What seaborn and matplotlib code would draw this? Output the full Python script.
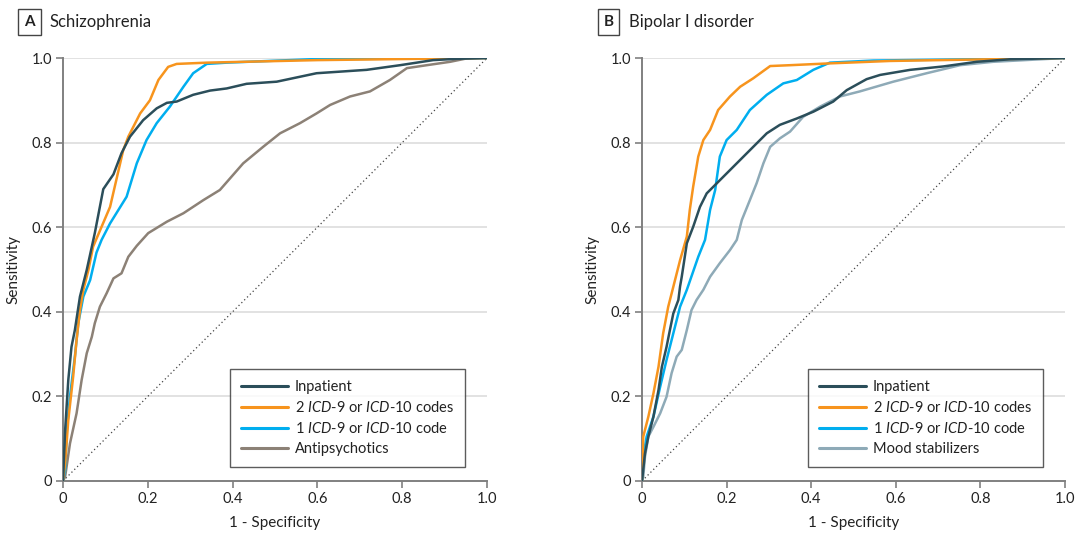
import matplotlib
matplotlib.use("Agg")
import matplotlib.pyplot as plt
from matplotlib.lines import Line2D
import seaborn as sns
import pandas as pd

# ---- Schizophrenia ROC curves (1 - specificity, sensitivity) ----
scz_inpatient_x = [0, 0.005, 0.0125, 0.02, 0.028, 0.04, 0.056, 0.075, 0.095, 0.119, 0.138, 0.158,
                   0.189, 0.221, 0.245, 0.268, 0.307, 0.347, 0.386, 0.433, 0.504, 0.598, 0.716,
                   0.795, 0.873, 0.928, 1.0]
scz_inpatient_y = [0, 0.12, 0.239, 0.317, 0.357, 0.436, 0.499, 0.586, 0.690, 0.725, 0.775, 0.814,
                   0.853, 0.881, 0.894, 0.897, 0.913, 0.923, 0.928, 0.939, 0.944, 0.964, 0.972,
                   0.983, 0.995, 0.998, 1.0]
scz_two_codes_x = [0, 0.005, 0.0125, 0.024, 0.032, 0.040, 0.048, 0.060, 0.071, 0.111, 0.142, 0.154,
                   0.182, 0.205, 0.225, 0.248, 0.268, 0.339, 0.6, 1.0]
scz_two_codes_y = [0, 0.042, 0.144, 0.247, 0.333, 0.404, 0.452, 0.499, 0.554, 0.648, 0.782, 0.814,
                   0.869, 0.9, 0.948, 0.979, 0.986, 0.989, 0.995, 1.0]
scz_one_code_x = [0, 0.005, 0.009, 0.0165, 0.028, 0.036, 0.048, 0.064, 0.079, 0.091, 0.111, 0.150,
                  0.174, 0.197, 0.221, 0.252, 0.284, 0.307, 0.339, 0.386, 0.583, 1.0]
scz_one_code_y = [0, 0.026, 0.12, 0.2, 0.294, 0.373, 0.436, 0.475, 0.54, 0.57, 0.609, 0.672,
                  0.751, 0.806, 0.846, 0.885, 0.932, 0.964, 0.986, 0.989, 0.997, 1.0]
scz_drug_x = [0, 0.005, 0.0165, 0.032, 0.044, 0.056, 0.068, 0.075, 0.087, 0.103, 0.119, 0.138,
              0.154, 0.174, 0.201, 0.245, 0.284, 0.331, 0.370, 0.425, 0.472, 0.512, 0.559, 0.598,
              0.630, 0.677, 0.724, 0.771, 0.811, 0.858, 0.913, 0.952, 1.0]
scz_drug_y = [0, 0.01, 0.089, 0.16, 0.239, 0.302, 0.341, 0.373, 0.412, 0.444, 0.479, 0.491,
              0.530, 0.556, 0.586, 0.613, 0.633, 0.664, 0.688, 0.751, 0.790, 0.822, 0.846, 0.869,
              0.889, 0.909, 0.921, 0.948, 0.976, 0.983, 0.991, 0.999, 1.0]

# ---- Bipolar I disorder ROC curves ----
bp_inpatient_x = [0, 0.007, 0.015, 0.027, 0.039, 0.047, 0.058, 0.066, 0.074, 0.086, 0.090, 0.094,
                  0.106, 0.121, 0.137, 0.153, 0.177, 0.200, 0.232, 0.263, 0.295, 0.326, 0.366,
                  0.405, 0.452, 0.484, 0.531, 0.563, 0.634, 0.712, 0.791, 0.870, 1.0]
bp_inpatient_y = [0, 0.065, 0.105, 0.152, 0.215, 0.270, 0.317, 0.357, 0.396, 0.428, 0.46, 0.483,
                  0.562, 0.601, 0.648, 0.680, 0.704, 0.727, 0.759, 0.790, 0.822, 0.842, 0.857,
                  0.873, 0.897, 0.924, 0.950, 0.960, 0.972, 0.980, 0.991, 0.997, 1.0]
bp_two_codes_x = [0, 0.003, 0.015, 0.027, 0.039, 0.050, 0.062, 0.074, 0.090, 0.106, 0.113, 0.121,
                  0.133, 0.145, 0.161, 0.180, 0.208, 0.232, 0.263, 0.303, 0.350, 0.437, 0.586, 1.0]
bp_two_codes_y = [0, 0.105, 0.152, 0.207, 0.270, 0.349, 0.412, 0.459, 0.522, 0.578, 0.641, 0.696,
                  0.767, 0.806, 0.830, 0.877, 0.909, 0.932, 0.952, 0.981, 0.983, 0.987, 0.993, 1.0]
bp_one_code_x = [0, 0.003, 0.011, 0.027, 0.043, 0.058, 0.074, 0.090, 0.106, 0.133, 0.149, 0.161,
                 0.173, 0.184, 0.200, 0.224, 0.255, 0.295, 0.334, 0.366, 0.405, 0.444, 0.547, 1.0]
bp_one_code_y = [0, 0.057, 0.105, 0.152, 0.223, 0.286, 0.349, 0.412, 0.452, 0.530, 0.570, 0.641,
                 0.688, 0.767, 0.806, 0.830, 0.877, 0.913, 0.940, 0.948, 0.972, 0.989, 0.994, 1.0]
bp_drug_x = [0, 0.003, 0.007, 0.015, 0.027, 0.043, 0.058, 0.070, 0.082, 0.094, 0.106, 0.117,
             0.129, 0.145, 0.161, 0.184, 0.208, 0.224, 0.236, 0.255, 0.271, 0.287, 0.303, 0.326,
             0.350, 0.381, 0.421, 0.468, 0.515, 0.594, 0.673, 0.752, 0.830, 1.0]
bp_drug_y = [0, 0.01, 0.057, 0.105, 0.128, 0.160, 0.199, 0.255, 0.294, 0.310, 0.357, 0.404,
             0.428, 0.452, 0.483, 0.515, 0.546, 0.570, 0.617, 0.664, 0.704, 0.751, 0.790, 0.810,
             0.826, 0.861, 0.885, 0.909, 0.921, 0.944, 0.964, 0.983, 0.991, 1.0]

tick_values = [0, 0.2, 0.4, 0.6, 0.8, 1.0]
tick_labels = ["0", "0.2", "0.4", "0.6", "0.8", "1.0"]

sns.set_theme(style="white")
plt.rcParams["font.family"] = ["Lato", "DejaVu Sans"]
plt.rcParams["mathtext.fontset"] = "custom"
plt.rcParams["mathtext.it"] = "Lato:italic"
plt.rcParams["mathtext.rm"] = "Lato"

TEXT = "#222222"
AXIS = "#808080"
GRID = "#dddddd"

series_names = ["Inpatient", "2 codes", "1 code", "Drug"]
labels_common = ["Inpatient",
                 r"2 $\mathit{ICD}$-$\mathit{9}$ or $\mathit{ICD}$-$\mathit{10}$ codes",
                 r"1 $\mathit{ICD}$-$\mathit{9}$ or $\mathit{ICD}$-$\mathit{10}$ code"]

panels = [
    dict(letter="A", title="Schizophrenia",
         curves=[(scz_inpatient_x, scz_inpatient_y), (scz_two_codes_x, scz_two_codes_y),
                 (scz_one_code_x, scz_one_code_y), (scz_drug_x, scz_drug_y)],
         drug_label="Antipsychotics", drug_color="#8c8176"),
    dict(letter="B", title="Bipolar I disorder",
         curves=[(bp_inpatient_x, bp_inpatient_y), (bp_two_codes_x, bp_two_codes_y),
                 (bp_one_code_x, bp_one_code_y), (bp_drug_x, bp_drug_y)],
         drug_label="Mood stabilizers", drug_color="#8eaab7"),
]

fig = plt.figure(figsize=(10.8, 5.36), dpi=100)
axes_rects = [[63 / 1080, 1 - 481 / 536, 424 / 1080, 423 / 536],
              [642 / 1080, 1 - 481 / 536, 423 / 1080, 423 / 536]]
letter_x = [29.5 / 1080, 608.5 / 1080]
title_x = [50 / 1080, 629 / 1080]

for i, p in enumerate(panels):
    ax = fig.add_axes(axes_rects[i])
    frames = []
    for name, (xs, ys) in zip(series_names, p["curves"]):
        frames.append(pd.DataFrame({"fpr": xs, "tpr": ys, "series": name}))
    df = pd.concat(frames, ignore_index=True)
    palette = {"Inpatient": "#2b4e5a", "2 codes": "#f7941d", "1 code": "#00aeef",
               "Drug": p["drug_color"]}

    # chance line
    ax.plot([0, 1], [0, 1], linestyle=(0, (1, 2.2)), color="#444444", linewidth=0.9, zorder=1)
    for yv in tick_values[1:]:
        ax.axhline(yv, color=GRID, linewidth=1.2, zorder=0)

    # draw the four curves, drug curve first so the others sit on top
    for name in ["Drug", "1 code", "2 codes", "Inpatient"]:
        sub = df[df["series"] == name]
        sns.lineplot(data=sub, x="fpr", y="tpr", color=palette[name], linewidth=1.8,
                     estimator=None, sort=False, ax=ax, legend=False, zorder=3)

    ax.set_xlim(0, 1)
    ax.set_ylim(0, 1)
    ax.set_xticks(tick_values)
    ax.set_xticklabels(tick_labels)
    ax.set_yticks(tick_values)
    ax.set_yticklabels(tick_labels)
    ax.tick_params(axis="both", direction="out", length=5, width=1.2, color=AXIS,
                   labelsize=10.5, labelcolor=TEXT, pad=3)
    ax.tick_params(axis="both", which="both", left=True, bottom=True)
    for side in ["top", "right"]:
        ax.spines[side].set_visible(False)
    for side in ["left", "bottom"]:
        ax.spines[side].set_color(AXIS)
        ax.spines[side].set_linewidth(1.4)
    ax.set_xlabel("1 - Specificity", fontsize=11, color=TEXT, labelpad=7)
    ax.set_ylabel("Sensitivity", fontsize=11, color=TEXT, labelpad=8)
    ax.set_facecolor("white")

    handles = [Line2D([0], [0], color=palette[n], linewidth=2.2) for n in series_names]
    leg = ax.legend(handles, labels_common + [p["drug_label"]], loc="lower right",
                    bbox_to_anchor=(0.948, 0.033), borderaxespad=0, frameon=True,
                    fancybox=False, fontsize=10.5, handlelength=3.2, handletextpad=0.5,
                    labelspacing=0.41, borderpad=0.75)
    leg.get_frame().set_edgecolor("#333333")
    leg.get_frame().set_linewidth(1.0)
    for t in leg.get_texts():
        t.set_color(TEXT)

    fig.text(letter_x[i], 1 - 22 / 536, p["letter"], ha="center", va="center",
             fontsize=11, fontweight="bold", color=TEXT,
             bbox=dict(boxstyle="square,pad=0.38", facecolor="white", edgecolor="#444444",
                       linewidth=1.0))
    fig.text(title_x[i], 1 - 22 / 536, p["title"], ha="left", va="center",
             fontsize=12, color=TEXT)

fig.savefig("out.png", dpi=100, facecolor="white")
